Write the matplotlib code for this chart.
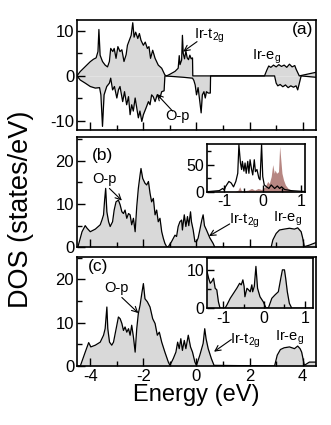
import matplotlib
matplotlib.use('Agg')
import matplotlib.pyplot as plt
from matplotlib.ticker import MultipleLocator

plt.rcParams['font.family'] = ['Liberation Sans', 'DejaVu Sans']
plt.rcParams['axes.unicode_minus'] = False
plt.rcParams['mathtext.fontset'] = 'custom'
plt.rcParams['mathtext.rm'] = 'Liberation Sans'
plt.rcParams['mathtext.default'] = 'regular'

# panel (a): spin-resolved DOS
a_up_e = [-4.5, -4.38, -4.19, -4.0, -3.88, -3.78, -3.71, -3.675, -3.63, -3.54, -3.44, -3.35,
          -3.28, -3.23, -3.15, -3.10, -3.03, -2.96, -2.88, -2.81, -2.73, -2.65, -2.60, -2.53,
          -2.46, -2.40, -2.35, -2.29, -2.21, -2.15, -2.09, -2.0, -1.93, -1.85, -1.79, -1.73,
          -1.65, -1.56, -1.44, -1.31, -1.19, -1.125, -1.0, -0.81, -0.69, -0.65, -0.62, -0.56,
          -0.53, -0.5, -0.45, -0.4, -0.35, -0.3, -0.25, -0.2, -0.15, -0.14, 2.56, 2.65, 2.72,
          2.8, 2.9, 3.0, 3.1, 3.2, 3.3, 3.4, 3.5, 3.6, 3.7, 3.75, 3.87, 4.5]
a_up = [0, 0.96, 2.06, 3.16, 3.7, 4.0, 5.4, 10.3, 4.6, 3.2, 2.4, 2.0,
        3.2, 6.1, 5.4, 6.1, 3.9, 6.5, 5.4, 5.8, 3.2, 4.7, 6.8, 7.9,
        9.0, 11.8, 8.6, 9.7, 8.3, 9.4, 7.9, 6.8, 7.5, 6.1, 6.5, 3.9,
        5.7, 3.9, 2.4, 1.7, 0.2, 0, 0.37, 1.0, 1.7, 4.5, 2.5, 3.5,
        9.0, 5.0, 3.8, 5.5, 4.0, 3.6, 4.6, 3.8, 4.0, 0, 0, 1.3, 2.2,
        1.9, 2.4, 2.0, 2.5, 2.1, 2.4, 1.9, 2.6, 2.0, 2.3, 1.5, 0, 0.8]

a_dn_e = [-4.5, -4.38, -4.19, -4.0, -3.81, -3.65, -3.6, -3.54, -3.48, -3.38, -3.28, -3.23,
          -3.16, -3.09, -3.0, -2.94, -2.88, -2.78, -2.71, -2.63, -2.56, -2.5, -2.44, -2.38,
          -2.31, -2.25, -2.19, -2.13, -2.06, -2.0, -1.9, -1.81, -1.75, -1.69, -1.63, -1.56,
          -1.48, -1.38, -1.31, -1.22, -1.19, -0.5, -0.15, -0.1, -0.05, 0.0, 0.06, 0.125,
          0.175, 0.22, 0.28, 0.33, 0.375, 0.44, 0.52, 0.53, 2.94, 3.0, 3.06, 3.15, 3.25,
          3.35, 3.45, 3.55, 3.65, 3.75, 3.81, 3.94, 4.5]
a_dn = [0, -0.9, -1.6, -2.35, -2.7, -2.6, -4.2, -11.2, -4.2, -2.35, -1.6, -0.5,
        -3.1, -2.35, -4.9, -3.1, -2.35, -5.7, -3.5, -6.4, -4.6, -8.6, -6.4, -7.8,
        -4.9, -7.1, -9.3, -7.8, -10.1, -8.6, -7.1, -5.7, -6.4, -4.2, -4.6, -5.7,
        -4.2, -4.9, -3.5, -3.3, 0, -0.3, -0.5, -1.0, -2.0, -4.2, -2.6, -5.7,
        -8.2, -4.2, -3.5, -4.9, -3.5, -3.8, -3.8, 0, 0, -1.6, -2.2, -1.9, -2.4,
        -2.0, -2.6, -2.2, -2.5, -2.2, -3.1, 0, -0.3]

# panel (b): total DOS
b_e = [-4.47, -4.31, -4.19, -4.12, -4.0, -3.81, -3.625, -3.56, -3.5, -3.46, -3.42, -3.375,
       -3.31, -3.25, -3.16, -3.1, -3.03, -2.94, -2.875, -2.81, -2.75, -2.69, -2.625, -2.56,
       -2.5, -2.44, -2.375, -2.31, -2.25, -2.19, -2.125, -2.09, -2.025, -1.94, -1.875, -1.81,
       -1.75, -1.69, -1.625, -1.56, -1.5, -1.44, -1.375, -1.31, -1.25, -1.19, -1.125, -1.06,
       -0.94, -0.81, -0.75, -0.69, -0.625, -0.56, -0.53, -0.46, -0.4, -0.34, -0.29, -0.225,
       -0.19, -0.125, -0.06, 0.0, 0.06, 0.125, 0.2, 0.25, 0.3, 0.375, 0.5, 0.625, 0.69,
       2.81, 2.875, 3.0, 3.125, 3.3, 3.5, 3.69, 3.81, 3.94, 4.0, 4.06, 4.25, 4.5]
b_dos = [0, 3.6, 5.0, 4.4, 3.6, 4.2, 5.2, 6.3, 7.5, 10.9, 13.6, 8.2,
         5.9, 4.8, 5.9, 8.6, 10.5, 10.9, 9.8, 8.2, 7.8, 8.6, 6.7, 7.8,
         7.5, 5.2, 6.7, 3.6, 9.4, 13.6, 16.7, 18.2, 15.9, 14.8, 14.4, 15.2,
         12.5, 10.5, 11.3, 7.5, 8.6, 5.9, 6.7, 3.6, 2.1, 0.9, 0.15, 0.15,
         1.3, 2.8, 2.5, 4.8, 5.9, 6.3, 4.0, 7.5, 4.8, 7.1, 5.0, 8.2,
         5.9, 4.0, 1.3, 1.3, 2.1, 4.0, 6.3, 7.5, 5.0, 4.0, 2.2, 0.9, 0,
         0, 1.7, 3.2, 4.0, 4.2, 4.4, 4.2, 4.5, 3.6, 2.1, 0.15, 0.5, 1.1]

# panel (c): total DOS
c_e = [-4.5, -4.375, -4.19, -4.06, -3.98, -3.81, -3.625, -3.5, -3.44, -3.375, -3.34, -3.275,
       -3.19, -3.125, -3.0, -2.94, -2.875, -2.81, -2.75, -2.69, -2.625, -2.56, -2.5, -2.44,
       -2.375, -2.31, -2.25, -2.19, -2.125, -2.06, -2.0, -1.94, -1.85, -1.75, -1.65, -1.56,
       -1.475, -1.4, -1.31, -1.19, -1.06, -1.0, -0.875, -0.775, -0.71, -0.65, -0.59, -0.53,
       -0.46, -0.4, -0.31, -0.225, -0.15, -0.06, 0.0, 0.125, 0.25, 0.31, 0.36, 0.44, 0.56,
       0.66, 2.94, 3.04, 3.16, 3.3, 3.5, 3.69, 3.81, 3.9, 3.96, 4.01, 4.06, 4.25, 4.5]
c_dos = [0, 0, 3.2, 5.4, 4.4, 4.8, 5.5, 7.1, 8.6, 13.6, 8.6, 5.5,
         4.8, 5.5, 9.4, 11.3, 10.9, 9.8, 8.2, 9.0, 7.8, 8.6, 7.1, 9.4,
         6.7, 3.2, 8.6, 12.1, 14.0, 16.7, 19.0, 15.5, 14.8, 13.6, 10.9, 9.8,
         7.1, 7.8, 5.5, 3.2, 0.9, 0.15, 1.7, 3.2, 5.5, 4.0, 6.3, 3.6,
         5.9, 4.0, 7.1, 4.4, 3.2, 0.9, 0.15, 2.5, 5.2, 8.6, 6.3, 4.0, 1.7,
         0.15, 0, 2.5, 3.8, 4.2, 4.4, 4.0, 4.6, 4.0, 3.2, 1.7, 0.15, 0.9, 0.9]

# inset (b)
ib_e = [-1.45, -1.13, -1.04, -1.0, -0.97, -0.88, -0.82, -0.76, -0.70, -0.65, -0.62, -0.58,
        -0.55, -0.53, -0.49, -0.46, -0.43, -0.39, -0.36, -0.33, -0.29, -0.26, -0.22, -0.19,
        -0.15, -0.10, -0.07, -0.03, 0.0, 0.04, 0.10, 0.16, 0.22, 0.31, 0.38, 0.44, 0.49,
        0.57, 0.66, 0.74, 1.17]
ib_dos = [0, 2, 6, 3, 9, 19, 16, 9, 19, 34, 87, 53,
          41, 56, 38, 53, 34, 56, 34, 59, 41, 31, 59, 37,
          41, 25, 22, 87, 28, 12.5, 9, 6, 12.5, 6, 10.6, 6, 9,
          4, 3, 2, 0]
ib_red_e = [-0.73, -0.64, -0.60, -0.55, -0.38, -0.29, -0.21, -0.12, -0.03, 0.06, 0.13, 0.17,
            0.22, 0.26, 0.30, 0.32, 0.36, 0.41, 0.44, 0.47, 0.50, 0.54, 0.59, 0.66, 0.74, 0.83]
ib_red = [0, 3, 9, 1, 3, 6, 3, 6, 4, 9, 19, 15,
          28, 50, 34, 40, 34, 37, 84, 59, 34, 22, 12.5, 6, 3, 0]

# inset (c)
ic_e = [-1.40, -1.36, -1.32, -1.28, -1.24, -1.20, -1.16, -1.12, -1.08, -0.96, -0.91, -0.83,
        -0.75, -0.67, -0.60, -0.56, -0.52, -0.49, -0.47, -0.42, -0.38, -0.34, -0.30, -0.28,
        -0.24, -0.20, -0.16, -0.10, -0.02, 0.05, 0.11, 0.19, 0.27, 0.35, 0.41, 0.45, 0.50,
        0.53, 0.57, 0.62, 0.68, 1.2]
ic_dos = [9.6, 7.8, 6.5, 7.0, 7.8, 5.2, 4.8, 1.7, 0, 0, 0.9, 2.6,
          3.9, 5.2, 6.5, 6.1, 7.4, 5.7, 3.0, 5.2, 4.8, 4.3, 6.1, 4.3,
          5.7, 10.9, 5.2, 3.0, 1.7, 0, 0.2, 2.6, 3.5, 4.3, 7.8, 10.0, 10.0,
          7.8, 4.3, 1.3, 0, 0]

gray = '#d9d9d9'
red = '#a9716c'
arrow = dict(arrowstyle='->', lw=0.8, shrinkA=0, shrinkB=0)

fig = plt.figure(figsize=(3.31, 4.25), dpi=100)
ax_a = fig.add_axes([0.2326, 0.6941, 0.7221, 0.2588])
ax_b = fig.add_axes([0.2326, 0.4181, 0.7221, 0.2588])
ax_c = fig.add_axes([0.2326, 0.1388, 0.7221, 0.2572])


def style(ax, fs=12):
    for s in ax.spines.values():
        s.set_linewidth(1.2)
    ax.tick_params(which='both', direction='in', top=False, right=False, labelsize=fs, pad=2)
    ax.tick_params(which='major', length=6, width=1)
    ax.tick_params(which='minor', length=3.5, width=1)


# (a)
ax_a.fill_between(a_up_e, a_up, 0, color=gray, lw=0)
ax_a.fill_between(a_dn_e, a_dn, 0, color=gray, lw=0)
ax_a.plot(a_up_e, a_up, color='k', lw=0.9)
ax_a.plot(a_dn_e, a_dn, color='k', lw=0.9)
ax_a.set_ylim(-12, 12.4)
ax_a.yaxis.set_major_locator(MultipleLocator(10))
ax_a.yaxis.set_minor_locator(MultipleLocator(5))
ax_a.text(4.4, 10.2, '(a)', ha='right', va='center', fontsize=12.5)
ax_a.text(-0.08, 8.9, 'Ir-t$_{2g}$', ha='left', va='center', fontsize=10.5)
ax_a.annotate('', xy=(-0.5, 5.4), xytext=(0.02, 7.6), arrowprops=arrow)
ax_a.text(2.64, 4.3, 'Ir-e$_g$', ha='center', va='center', fontsize=10.5)
ax_a.text(-0.72, -9.0, 'O-p', ha='center', va='center', fontsize=10.5)
ax_a.annotate('', xy=(-1.5, -4.0), xytext=(-0.9, -7.8), arrowprops=arrow)

# (b)
ax_b.fill_between(b_e, b_dos, 0, color=gray, lw=0)
ax_b.plot(b_e, b_dos, color='k', lw=0.9)
ax_b.set_ylim(0, 25.4)
ax_b.yaxis.set_major_locator(MultipleLocator(10))
ax_b.yaxis.set_minor_locator(MultipleLocator(5))
ax_b.text(-3.55, 21.3, '(b)', ha='center', va='center', fontsize=12.5)
ax_b.text(-3.47, 15.8, 'O-p', ha='center', va='center', fontsize=10.5)
ax_b.annotate('', xy=(-2.81, 10.8), xytext=(-3.28, 13.6), arrowprops=arrow)
ax_b.text(1.22, 6.1, 'Ir-t$_{2g}$', ha='left', va='center', fontsize=10.5)
ax_b.annotate('', xy=(0.47, 2.6), xytext=(1.25, 5.4), arrowprops=arrow)
ax_b.text(3.44, 6.6, 'Ir-e$_g$', ha='center', va='center', fontsize=10.5)

# (c)
ax_c.fill_between(c_e, c_dos, 0, color=gray, lw=0)
ax_c.plot(c_e, c_dos, color='k', lw=0.9)
ax_c.set_ylim(0, 25.2)
ax_c.yaxis.set_major_locator(MultipleLocator(10))
ax_c.yaxis.set_minor_locator(MultipleLocator(5))
ax_c.text(-3.7, 22.9, '(c)', ha='center', va='center', fontsize=12.5)
ax_c.text(-3.0, 18.0, 'O-p', ha='center', va='center', fontsize=10.5)
ax_c.annotate('', xy=(-2.19, 12.2), xytext=(-2.81, 15.8), arrowprops=arrow)
ax_c.text(1.27, 5.8, 'Ir-t$_{2g}$', ha='left', va='center', fontsize=10.5)
ax_c.annotate('', xy=(0.66, 3.3), xytext=(1.31, 6.1), arrowprops=arrow)
ax_c.text(3.5, 6.5, 'Ir-e$_g$', ha='center', va='center', fontsize=10.5)

for ax in (ax_a, ax_b, ax_c):
    ax.set_xlim(-4.5, 4.5)
    ax.xaxis.set_major_locator(MultipleLocator(2))
    ax.xaxis.set_minor_locator(MultipleLocator(1))
    style(ax)
ax_a.tick_params(labelbottom=False)
ax_b.tick_params(labelbottom=False)
ax_c.set_xlabel('Energy (eV)', fontsize=17, labelpad=0)
fig.text(0.064, 0.508, 'DOS (states/eV)', rotation=90, ha='center', va='center', fontsize=19.5)

# insets
in_b = fig.add_axes([0.6254, 0.5489, 0.2961, 0.1122])
in_b.fill_between(ib_red_e, ib_red, 0, color=red, lw=0, alpha=0.85)
in_b.plot(ib_e, ib_dos, color='k', lw=0.9)
in_b.set_xlim(-1.45, 1.1)
in_b.set_ylim(0, 88)
in_b.yaxis.set_major_locator(MultipleLocator(50))
in_b.yaxis.set_minor_locator(MultipleLocator(25))

in_c = fig.add_axes([0.6254, 0.2746, 0.3202, 0.1176])
in_c.fill_between(ic_e, ic_dos, 0, color=gray, lw=0)
in_c.plot(ic_e, ic_dos, color='k', lw=0.9)
in_c.set_xlim(-1.4, 1.2)
in_c.set_ylim(0, 13)
in_c.yaxis.set_major_locator(MultipleLocator(10))
in_c.yaxis.set_minor_locator(MultipleLocator(5))

for ax in (in_b, in_c):
    ax.xaxis.set_major_locator(MultipleLocator(1))
    ax.xaxis.set_minor_locator(MultipleLocator(0.5))
    style(ax, fs=11.5)
    ax.tick_params(which='major', length=5)
    ax.tick_params(which='minor', length=3)

fig.savefig('out.png', dpi=100)
